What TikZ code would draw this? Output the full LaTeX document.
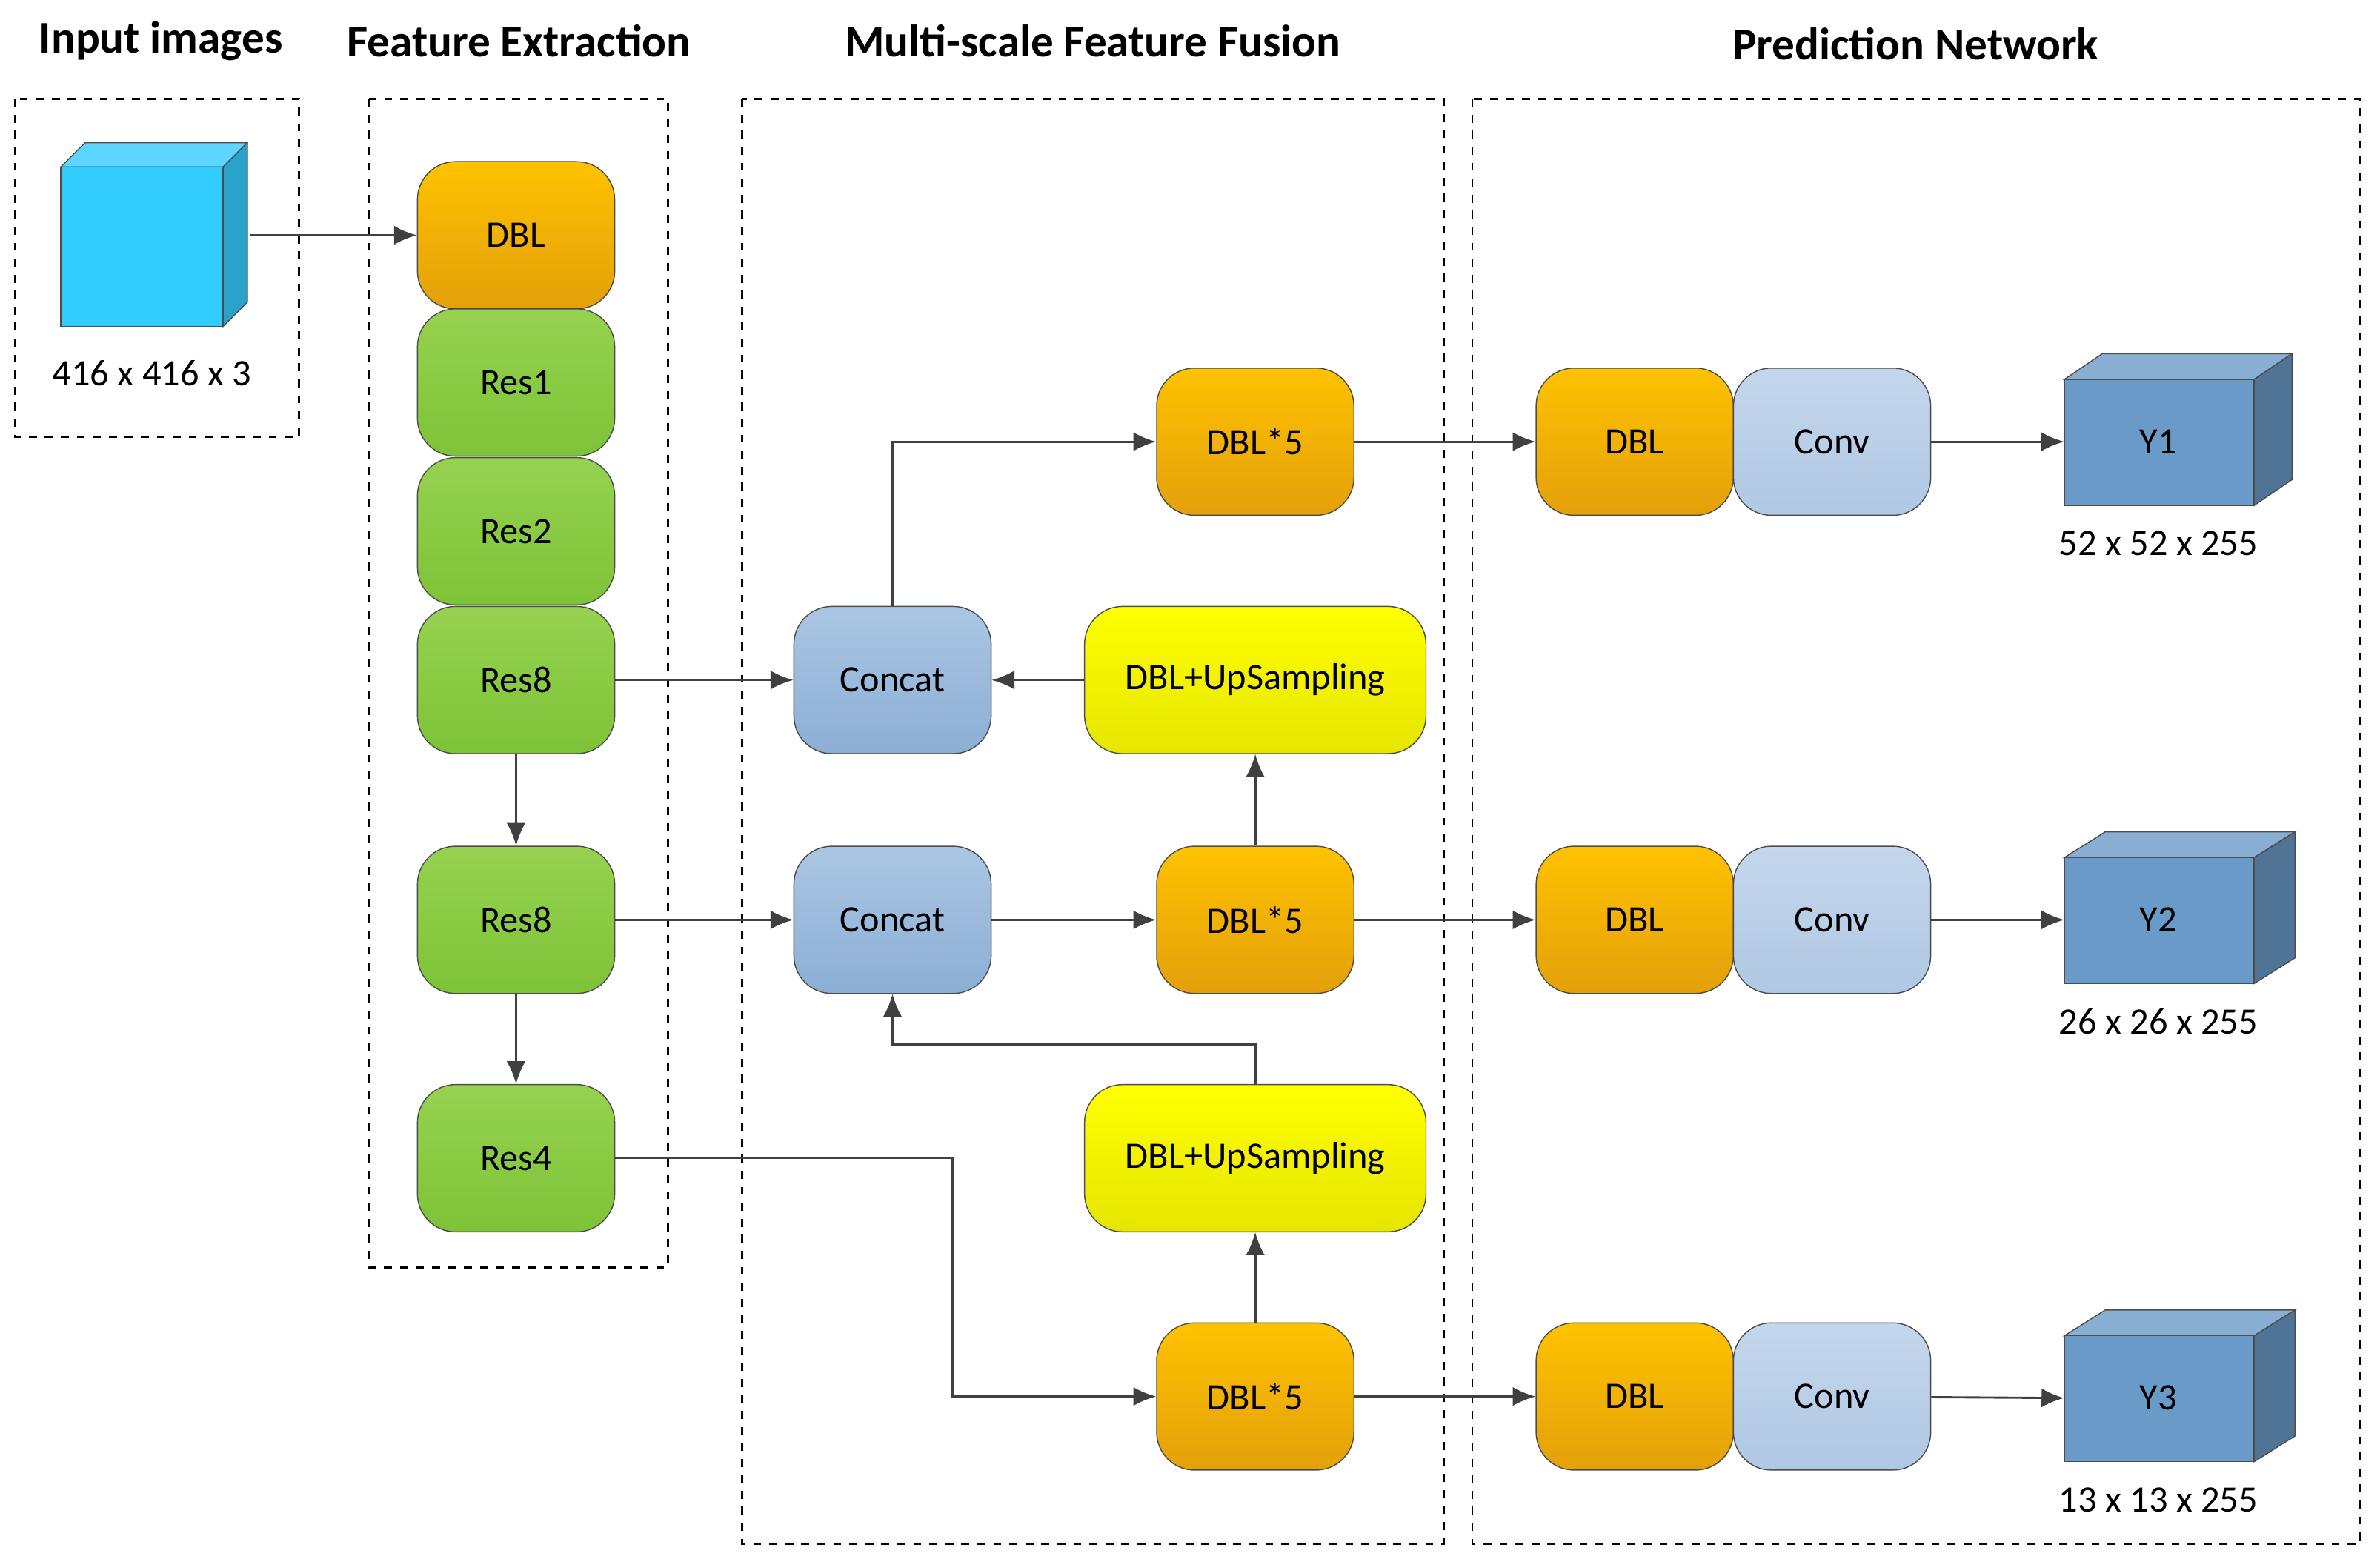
\documentclass[tikz,border=0pt]{standalone}
\usepackage{fontspec}
\setmainfont{Carlito}
\usetikzlibrary{arrows.meta}
\definecolor{orTop}{RGB}{255,194,0}
\definecolor{orBot}{RGB}{228,160,10}
\definecolor{grTop}{RGB}{150,210,80}
\definecolor{grBot}{RGB}{125,195,55}
\definecolor{caTop}{RGB}{170,198,228}
\definecolor{caBot}{RGB}{140,175,212}
\definecolor{cvTop}{RGB}{196,214,236}
\definecolor{cvBot}{RGB}{176,200,228}
\definecolor{cubeIn}{RGB}{51,204,255}
\definecolor{cubeY}{RGB}{106,154,200}
\begin{document}
\begin{tikzpicture}[x=0.02cm,y=-0.02cm,
  blk/.style={draw=black!70,rounded corners=0.5cm,minimum width=2.6cm,minimum height=1.94cm,font=\fontsize{14}{16}\selectfont,shading=axis,shading angle=0},
  dbl/.style={blk,top color=orTop,bottom color=orBot},
  res/.style={blk,top color=grTop,bottom color=grBot},
  cat/.style={blk,top color=caTop,bottom color=caBot},
  cnv/.style={blk,top color=cvTop,bottom color=cvBot},
  ups/.style={blk,minimum width=4.5cm,top color=yellow,bottom color=yellow!90!black},
  frame/.style={dashed,thick},
  ttl/.style={font=\bfseries\fontsize{17}{20}\selectfont},
  lbl/.style={font=\fontsize{14}{16}\selectfont},
  arr/.style={thick,black!75,-{Latex[length=3mm,width=2.5mm]}}]
\useasboundingbox (0,0) rectangle (1568,1029);
% frames and titles
\draw[frame] (10,65) rectangle (197,288);
\draw[frame] (243,65) rectangle (440,835);
\draw[frame] (489,65) rectangle (951,1017);
\draw[frame] (970,65) rectangle (1555,1017);
\node[ttl] at (106,27) {Input images};
\node[ttl] at (342,27) {Feature Extraction};
\node[ttl] at (720,27) {Multi-scale Feature Fusion};
\node[ttl] at (1262,29) {Prediction Network};
% input cube
\fill[cubeIn!80!white,draw=black!70] (40,110) -- (56,94) -- (163,94) -- (147,110) -- cycle;
\fill[cubeIn!80!black,draw=black!70] (147,110) -- (163,94) -- (163,199) -- (147,215) -- cycle;
\fill[cubeIn,draw=black!70] (40,110) rectangle (147,215);
\coordinate (img) at (165,155);
\node[lbl] at (100,246) {416 x 416 x 3};
% backbone
\node[dbl] (dbl0) at (340,155) {DBL};
\node[res] (res1) at (340,252) {Res1};
\node[res] (res2) at (340,350) {Res2};
\node[res] (res8a) at (340,448) {Res8};
\node[res] (res8b) at (340,606) {Res8};
\node[res] (res4) at (340,763) {Res4};
% fusion
\node[cat] (cat1) at (588,448) {Concat};
\node[cat] (cat2) at (588,606) {Concat};
\node[dbl] (dfa) at (827,291) {DBL*5};
\node[dbl] (dfb) at (827,606) {DBL*5};
\node[dbl] (dfc) at (827,920) {DBL*5};
\node[ups] (up1) at (827,448) {DBL+UpSampling};
\node[ups] (up2) at (827,763) {DBL+UpSampling};
% prediction
\foreach \i/\y in {1/291,2/606,3/920} {
  \node[dbl] (pd\i) at (1077,\y) {DBL};
  \node[cnv] (cv\i) at (1207,\y) {Conv};
}
\foreach \i/\y/\w/\dx/\dy/\t in {1/250/125/25/17/52 x 52 x 255,2/565/125/27/17/26 x 26 x 255,3/880/125/27/17/13 x 13 x 255} {
  \fill[cubeY!80!white,draw=black!70] (1360,\y) -- ++(\dx,-\dy) -- ++(\w,0) -- ++(-\dx,\dy) -- cycle;
  \fill[cubeY!75!black,draw=black!70] (1360+\w,\y) -- ++(\dx,-\dy) -- ++(0,83) -- ++(-\dx,\dy) -- cycle;
  \fill[cubeY,draw=black!70] (1360,\y) rectangle ++(\w,83);
  \node[lbl] (y\i) at (1422,\y+41) {Y\i};
  \node[lbl] at (1422,\y+108) {\t};
  \coordinate (yin\i) at (1360,\y+41);
}
% connectors
\draw[arr] (img) -- (dbl0);
\draw[arr] (res8a) -- (cat1);
\draw[arr] (up1) -- (cat1);
\draw[arr] (cat1.north) |- (dfa);
\draw[arr] (res8a) -- (res8b);
\draw[arr] (res8b) -- (res4);
\draw[arr] (res8b) -- (cat2);
\draw[arr] (cat2) -- (dfb);
\draw[arr] (dfb) -- (up1);
\draw[arr] (up2.north) -- ++(0,-26) -| (cat2.south);
\draw[arr] (res4.east) -- ++(222,0) |- (dfc);
\draw[arr] (dfc) -- (up2);
\draw[arr] (dfa) -- (pd1);
\draw[arr] (dfb) -- (pd2);
\draw[arr] (dfc) -- (pd3);
\foreach \i in {1,2,3} { \draw[arr] (cv\i) -- (yin\i); }
\end{tikzpicture}
\end{document}
